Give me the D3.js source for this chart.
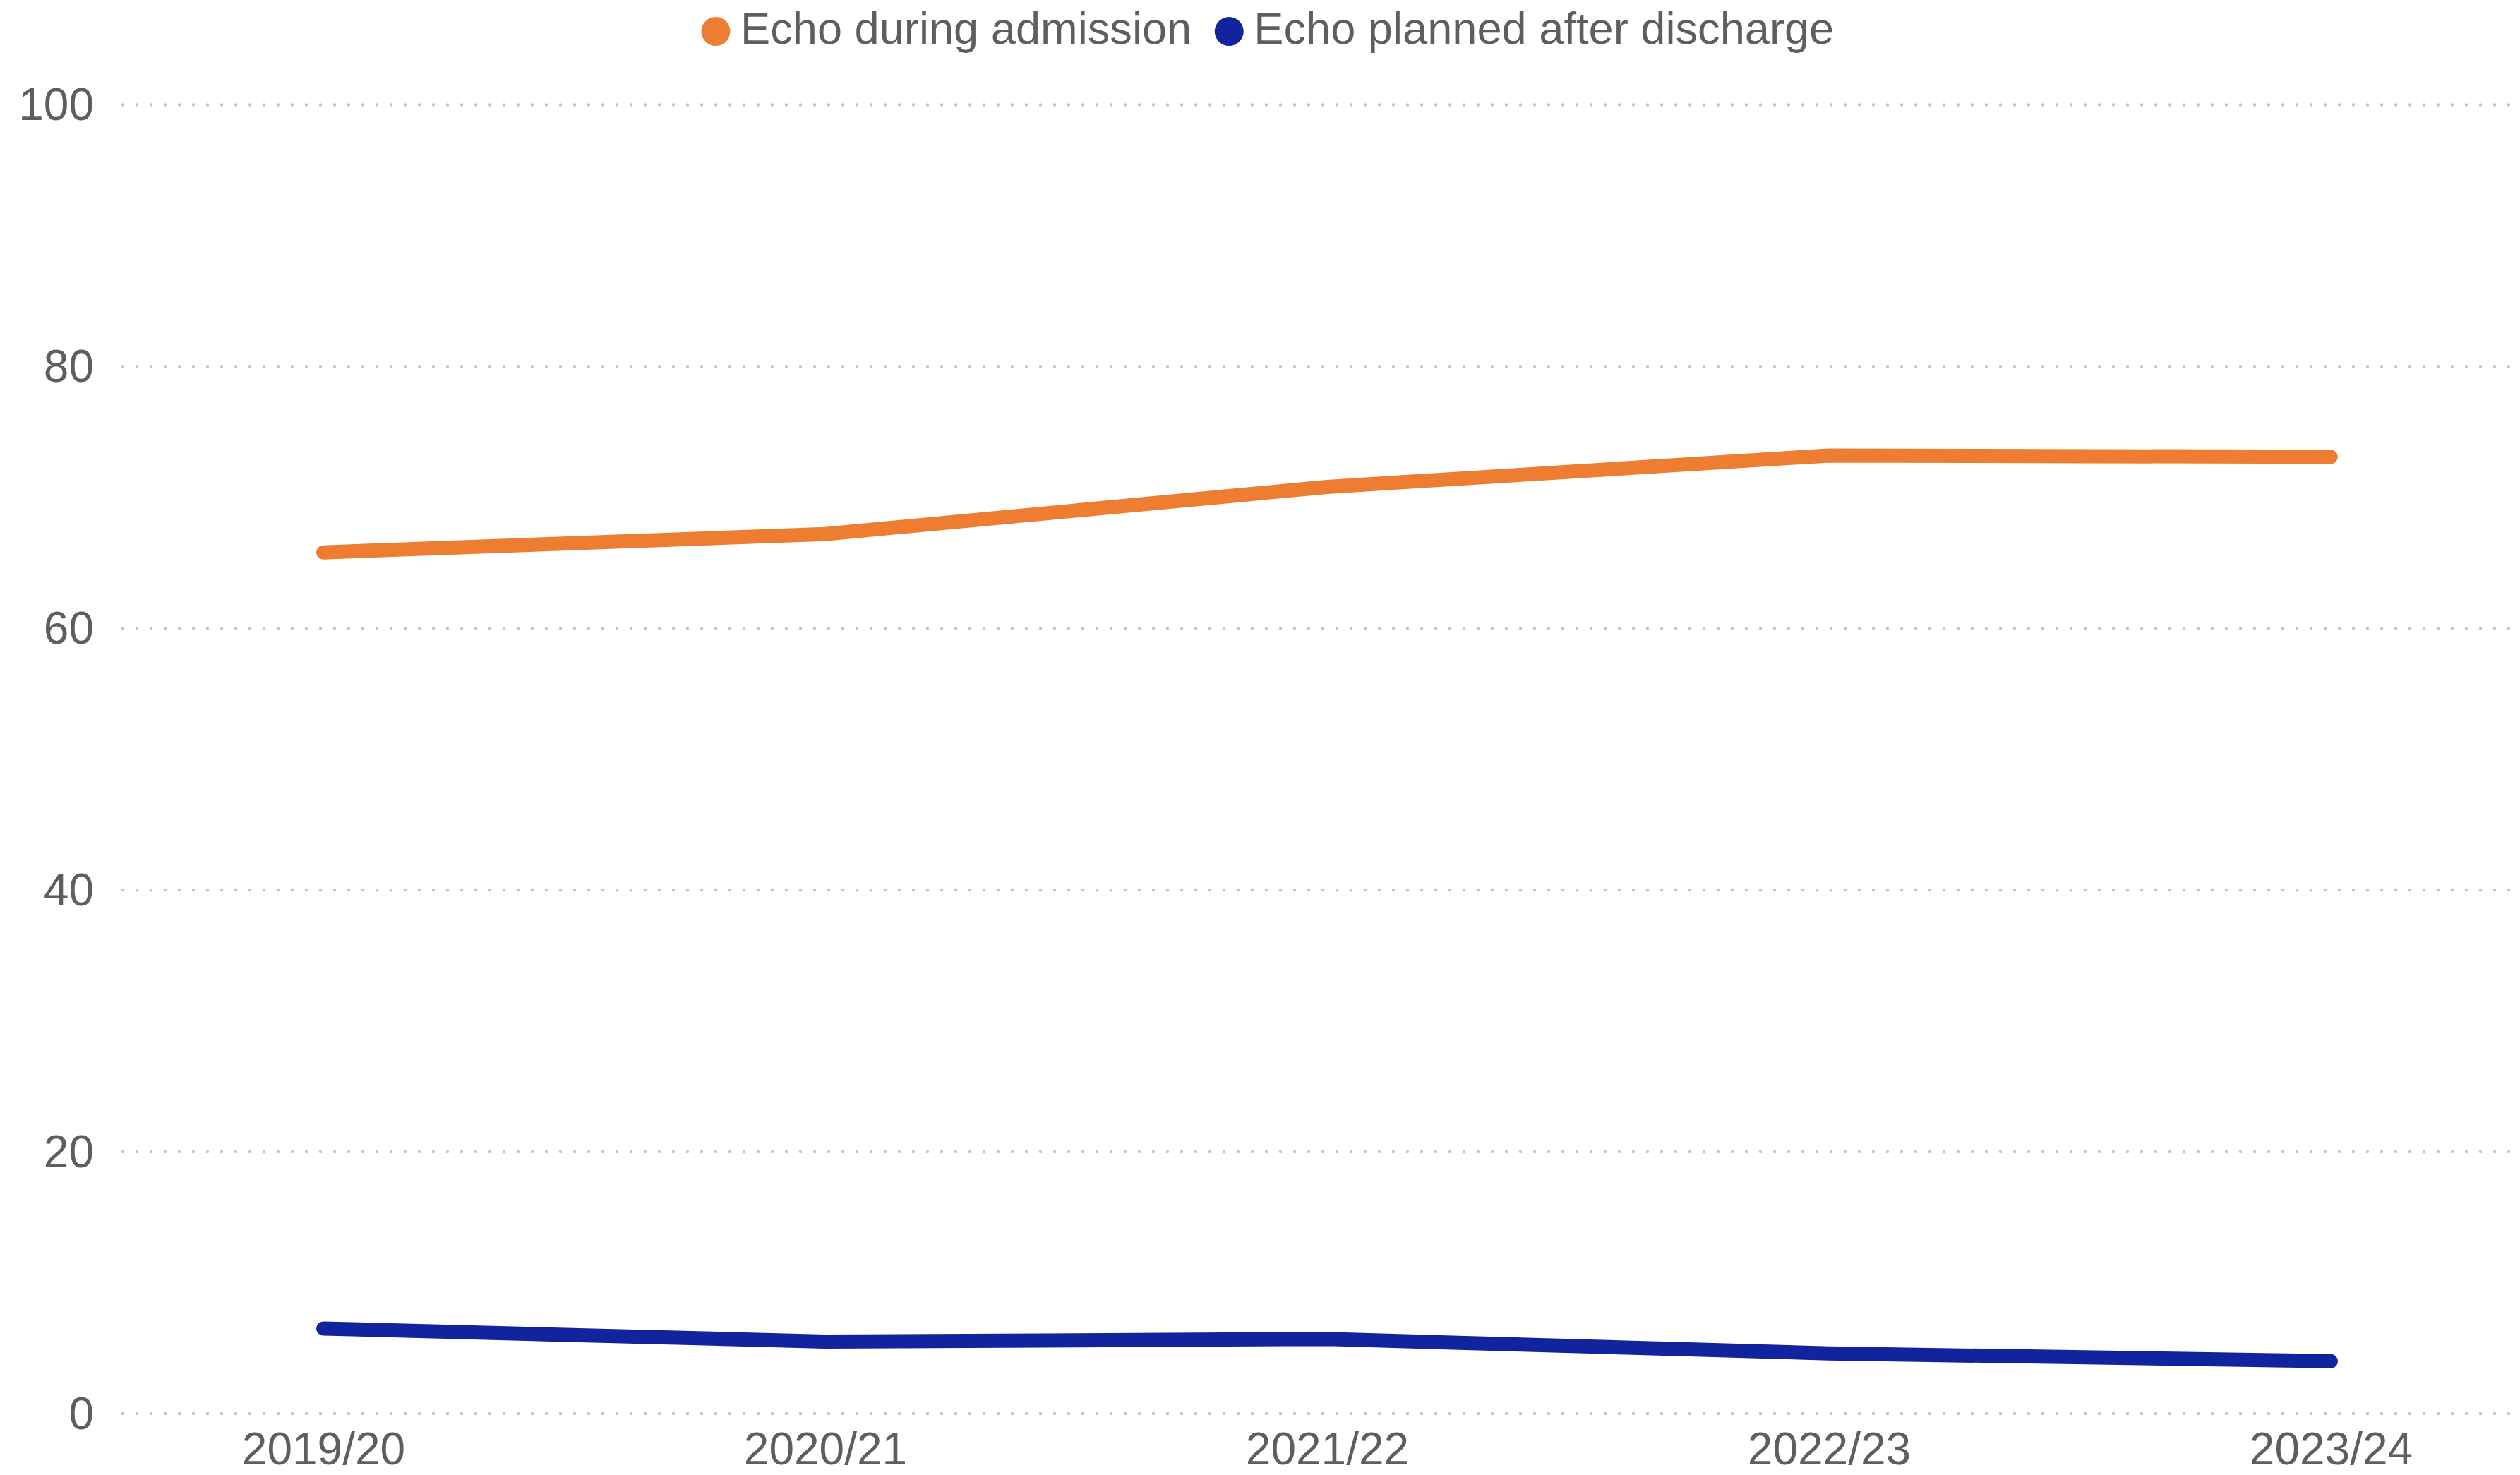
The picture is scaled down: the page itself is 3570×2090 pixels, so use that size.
<!DOCTYPE html>
<html>
<head>
<meta charset="utf-8">
<script src="https://cdn.jsdelivr.net/npm/d3@7"></script>
<style>
  html, body { margin: 0; padding: 0; background: #ffffff; }
  svg { display: block; }
  text { font-family: "Liberation Sans", Arial, sans-serif; fill: #605E5C; }
</style>
</head>
<body>
<script>
// Financial years on the x axis
const years = ["2019/20", "2020/21", "2021/22", "2022/23", "2023/24"];
// Percentage of patients, by year
const echoDuringAdmission = [65.8, 67.2, 70.8, 73.2, 73.1];
const echoPlannedAfterDischarge = [6.5, 5.5, 5.7, 4.6, 4.0];
// Y axis ticks
const yTicks = [0, 20, 40, 60, 80, 100];

const seriesNames = ["Echo during admission", "Echo planned after discharge"];
const seriesColors = ["#ED7D31", "#12239E"];

const W = 3570, H = 2090;
const svg = d3.select("body").append("svg").attr("width", W).attr("height", H);

const x = d3.scalePoint().domain(years).range([458, 3302]);
const y = d3.scaleLinear().domain([0, 100]).range([2003, 148.4]);

// dotted horizontal gridlines
const grid = svg.append("g");
grid.selectAll("line").data(yTicks).join("line")
  .attr("x1", 174).attr("x2", 3560)
  .attr("y1", d => y(d)).attr("y2", d => y(d))
  .attr("stroke", "#C8C6C4")
  .attr("stroke-width", 4.5)
  .attr("stroke-linecap", "round")
  .attr("stroke-dasharray", "0 20");

// y axis labels
const yAxis = d3.axisLeft(y).tickValues(yTicks).tickSize(0).tickPadding(0);
const gy = svg.append("g").attr("transform", "translate(133,0)").call(yAxis);
gy.select(".domain").remove();
gy.selectAll("text")
  .attr("font-size", 64)
  .attr("font-family", "Liberation Sans, Arial, sans-serif")
  .attr("fill", "#605E5C")
  .attr("dy", "0.33em");

// x axis labels
const xAxis = d3.axisBottom(x).tickSize(0).tickPadding(0);
const gx = svg.append("g").attr("transform", "translate(0,2075)").call(xAxis);
gx.select(".domain").remove();
gx.selectAll("text")
  .attr("font-size", 64)
  .attr("font-family", "Liberation Sans, Arial, sans-serif")
  .attr("fill", "#605E5C")
  .attr("dy", 0)
  .attr("y", 0);

// lines
const line = d3.line().x((d, i) => x(years[i])).y(d => y(d));
[echoDuringAdmission, echoPlannedAfterDischarge].forEach((vals, k) => {
  svg.append("path")
    .datum(vals)
    .attr("d", line)
    .attr("fill", "none")
    .attr("stroke", seriesColors[k])
    .attr("stroke-width", 20)
    .attr("stroke-linejoin", "round")
    .attr("stroke-linecap", "round");
});

// legend
const legend = svg.append("g");
let lx = 994;
seriesNames.forEach((name, k) => {
  legend.append("circle")
    .attr("cx", lx + 20).attr("cy", 44.5).attr("r", 20.5)
    .attr("fill", seriesColors[k]);
  const t = legend.append("text")
    .attr("x", lx + 55).attr("y", 62)
    .attr("font-size", 63.2)
    .text(name);
  lx = lx + 55 + t.node().getComputedTextLength() + 33;
});
</script>
</body>
</html>
